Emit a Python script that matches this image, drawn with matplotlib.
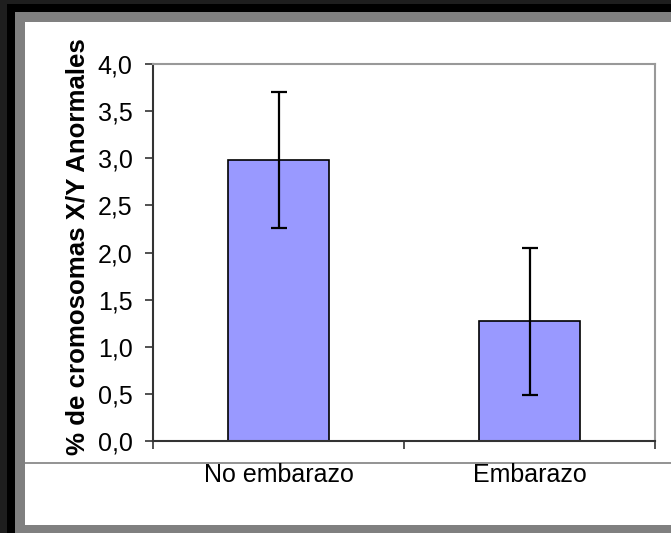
import matplotlib
matplotlib.use("Agg")
import matplotlib.pyplot as plt
from matplotlib.patches import Rectangle
from matplotlib.lines import Line2D
from matplotlib.ticker import FixedLocator

categories = ["No embarazo", "Embarazo"]
values = [2.98, 1.27]
errors = [0.72, 0.78]
yticks = [0.0, 0.5, 1.0, 1.5, 2.0, 2.5, 3.0, 3.5, 4.0]
ylabel = "% de cromosomas X/Y Anormales"

W, H = 671, 533
fig = plt.figure(figsize=(W / 100, H / 100), dpi=100)
fig.patch.set_facecolor("#1e1e1e")

def prect(x0, y0, x1, y1, color):
    # pixel coordinates (top-left origin)
    fig.add_artist(Rectangle((x0 / W, 1 - y1 / H), (x1 - x0) / W, (y1 - y0) / H,
                             transform=fig.transFigure, facecolor=color,
                             edgecolor="none", zorder=-10))

prect(7, 4, W + 5, H + 5, "#000000")
prect(15, 12, W + 5, H + 5, "#808080")
prect(25, 22, W + 5, 525, "#ffffff")
fig.add_artist(Line2D([25 / W, 1], [1 - 463 / H, 1 - 463 / H], transform=fig.transFigure,
                      color="#808080", lw=1.2, zorder=-5))

ax = fig.add_axes([153 / W, 1 - 441 / H, (655 - 153) / W, (441 - 64) / H])
ax.set_facecolor("white")
x = list(range(len(categories)))
ax.bar(x, values, width=0.4, color="#9999ff", edgecolor="black", linewidth=1.2, zorder=2)
ax.errorbar(x, values, yerr=errors, fmt="none", ecolor="black", elinewidth=1.6,
            capsize=6, capthick=1.6, zorder=3)

ax.set_xlim(-0.5, 1.5)
ax.set_ylim(0, 4.0)
ax.set_yticks(yticks)
ax.set_yticklabels([f"{v:.1f}".replace(".", ",") for v in yticks], fontsize=18,
                   family="Liberation Sans")
ax.set_xticks(x)
ax.set_xticklabels(categories, fontsize=18, family="Liberation Sans")
ax.xaxis.set_minor_locator(FixedLocator([-0.5, 0.5, 1.5]))
ax.tick_params(axis="x", which="major", length=0, pad=16)
ax.tick_params(axis="x", which="minor", length=5.5, width=1.2, color="#333333", direction="out")
ax.tick_params(axis="y", which="major", length=5.8, width=1.2, color="#333333", pad=9,
               direction="out")

for s in ["top", "right"]:
    ax.spines[s].set_color("#999999")
    ax.spines[s].set_linewidth(1.5)
for s in ["left", "bottom"]:
    ax.spines[s].set_color("#333333")
    ax.spines[s].set_linewidth(1.5)

fig.text(78 / W, 1 - 246.5 / H, ylabel, rotation=90, ha="center", va="center",
         fontsize=18.6, fontweight="bold", family="Liberation Sans")

fig.savefig("out.png", dpi=100, facecolor=fig.get_facecolor())
